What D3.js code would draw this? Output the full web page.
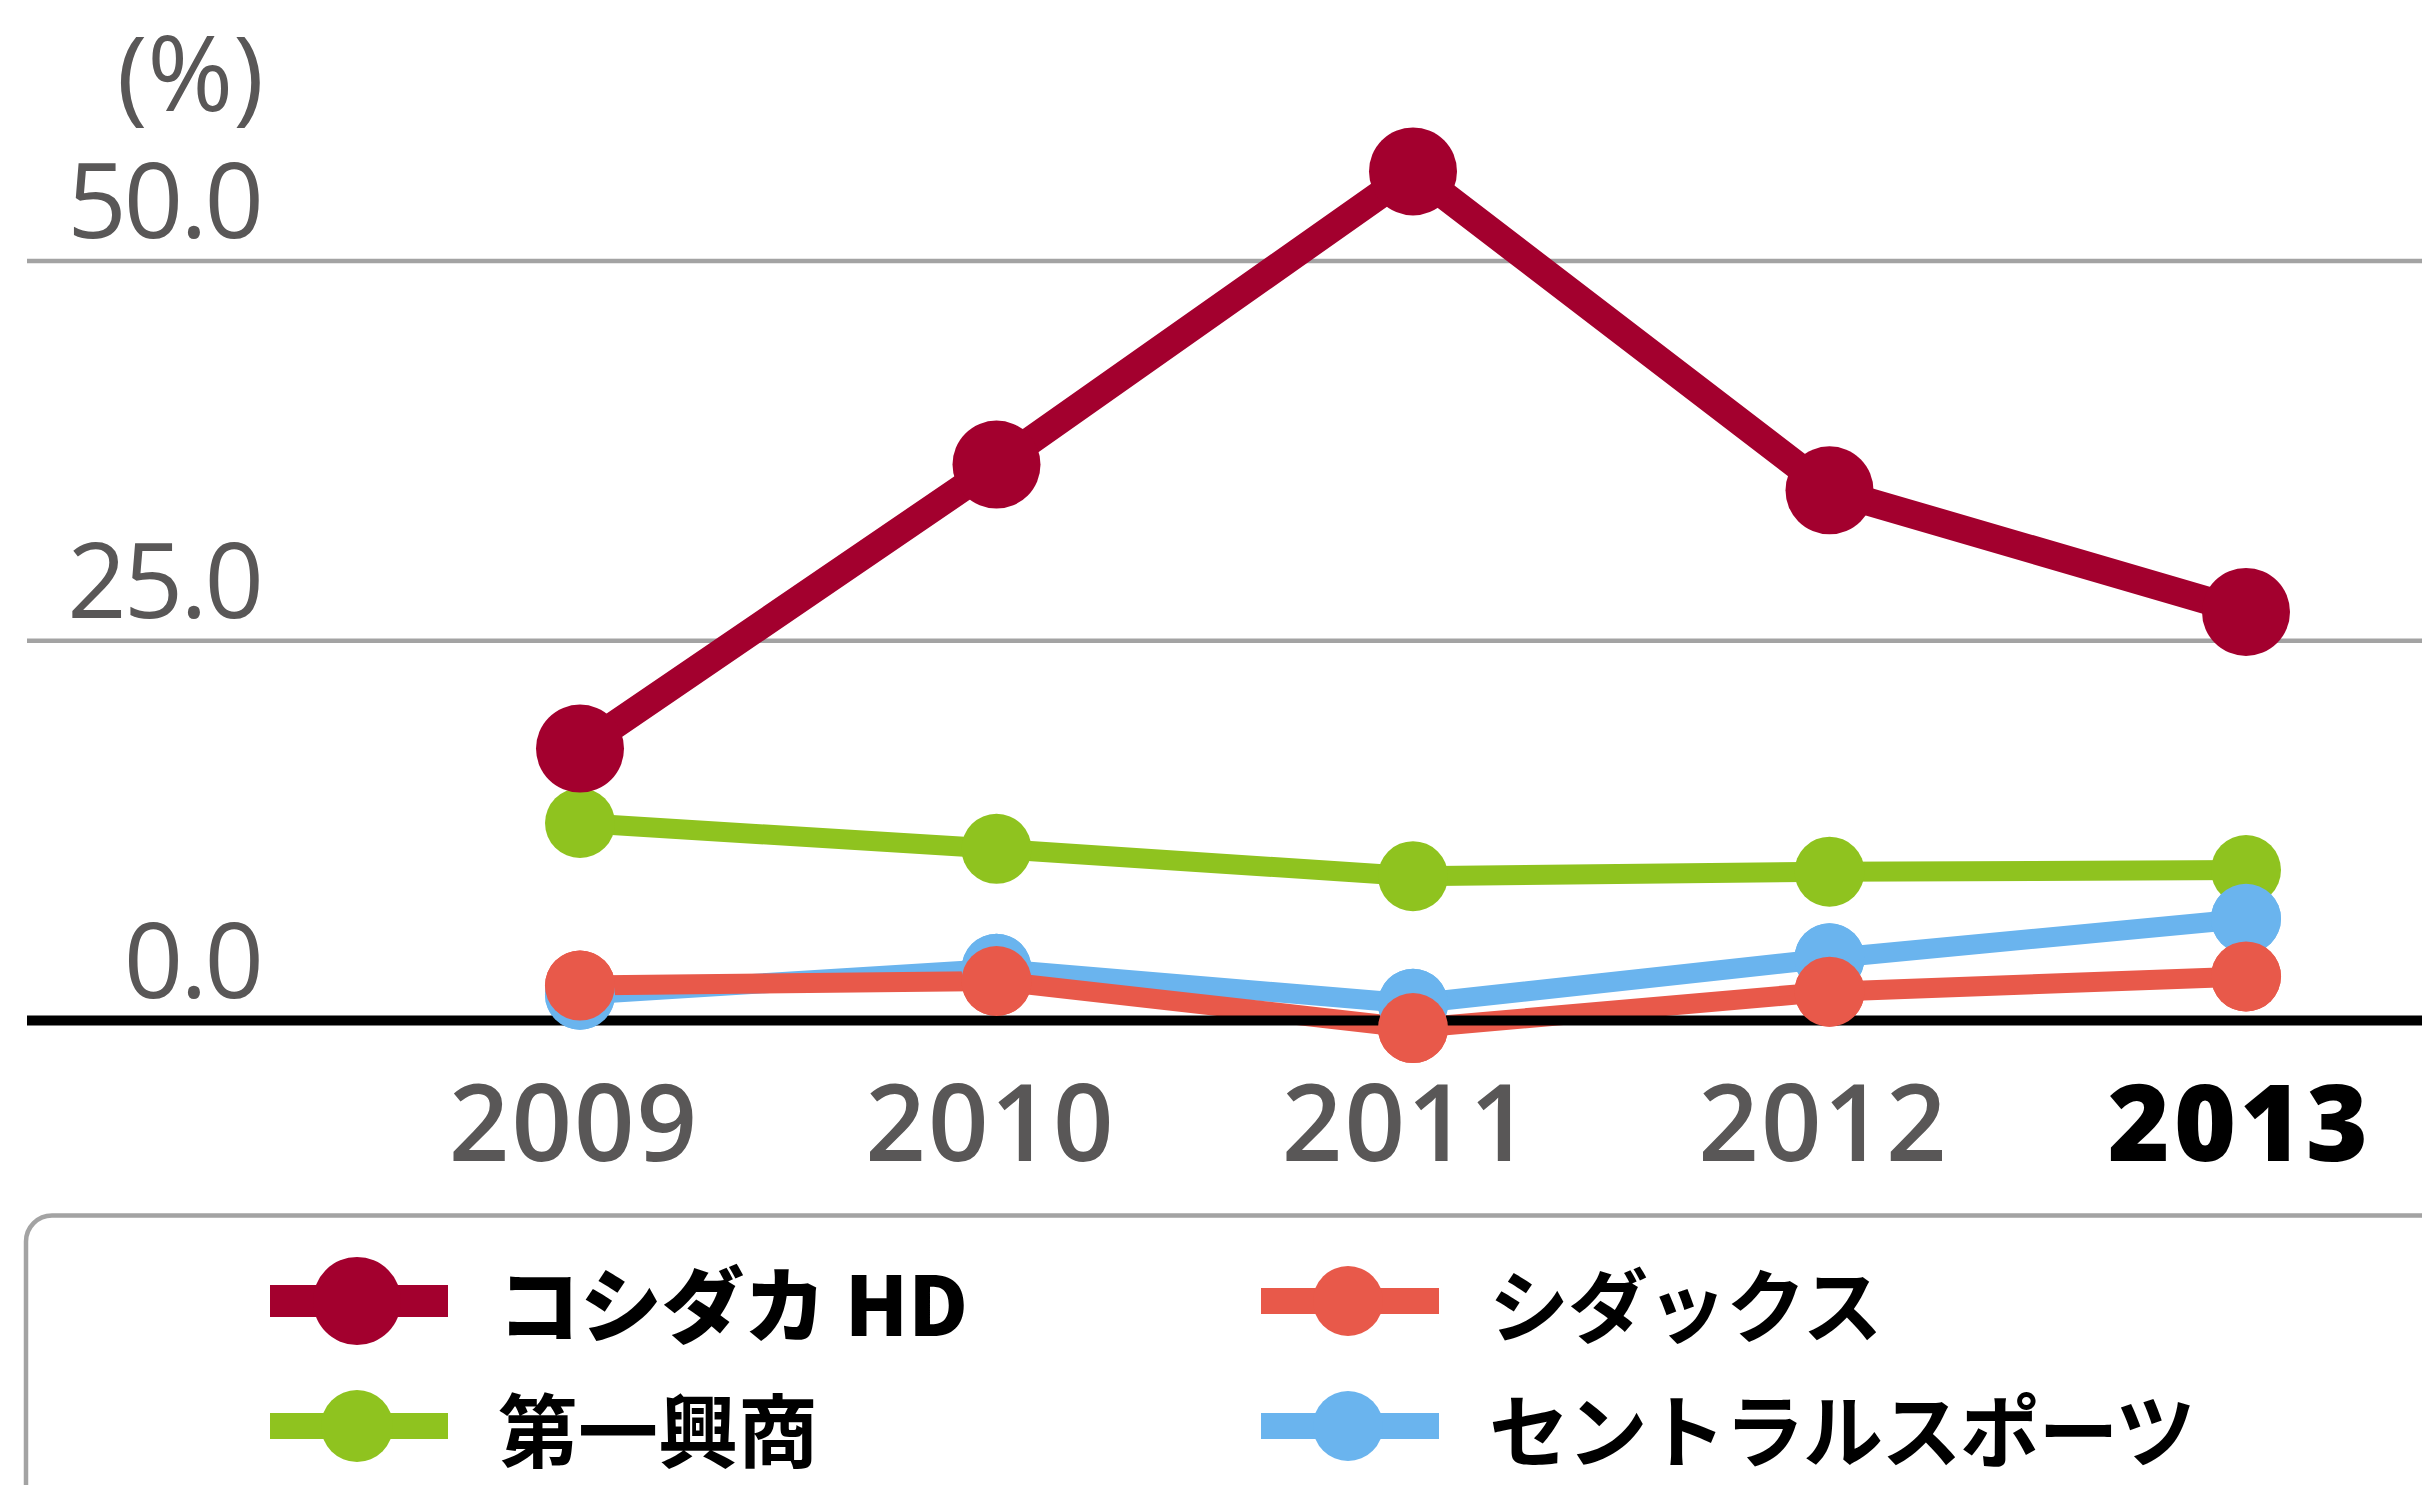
<!DOCTYPE html>
<html>
<head>
<meta charset="utf-8">
<script src="https://cdn.jsdelivr.net/npm/d3@7"></script>
<style>
  html, body { margin: 0; padding: 0; background: #fff; }
  svg { display: block; }
</style>
</head>
<body>
<svg id="chart" width="2422" height="1485"></svg>
<script>
// ---- data ----
const years = ["2009", "2010", "2011", "2012", "2013"];
const seriesNames = ["コシダカ HD", "第一興商", "シダックス", "セントラルスポーツ"];
const koshidaka = [17.9, 36.6, 55.9, 34.9, 26.9];
const daiichikosho = [13.0, 11.3, 9.5, 9.8, 9.9];
const shidax = [2.3, 2.6, -0.5, 1.9, 2.9];
const centralSports = [1.7, 3.4, 1.1, 4.1, 6.7];
const yTicks = [0, 25, 50];
const yTickLabels = ["0.0", "25.0", "50.0"];
const unitLabel = "(%)";

// ---- styles ----
const styles = {
  "コシダカ HD": { color: "#a3002e", width: 28, r: 44, legendWidth: 32, legendR: 44, weight: 900, fs: 82, ls: 0 },
  "第一興商": { color: "#8fc31f", width: 20, r: 35, legendWidth: 26, legendR: 36, weight: 700, fs: 80, ls: 0 },
  "シダックス": { color: "#e8594a", width: 20, r: 35, legendWidth: 26, legendR: 35, weight: 700, fs: 80, ls: -1 },
  "セントラルスポーツ": { color: "#6ab4ee", width: 20, r: 35, legendWidth: 26, legendR: 35, weight: 700, fs: 80, ls: -1.5 }
};
const valuesByName = {
  "コシダカ HD": koshidaka,
  "第一興商": daiichikosho,
  "シダックス": shidax,
  "セントラルスポーツ": centralSports
};

const svg = d3.select("#chart");
const W = 2422;

const x = d3.scalePoint().domain(years).range([580, 2246]);
const y = d3.scaleLinear().domain([0, 50]).range([1020.5, 261]);

// gridlines
svg.append("g").selectAll("line")
  .data(yTicks.filter(d => d !== 0))
  .join("line")
  .attr("x1", 27).attr("x2", W)
  .attr("y1", d => y(d)).attr("y2", d => y(d))
  .attr("stroke", "#a3a3a3").attr("stroke-width", 4.5);

// y tick labels
svg.append("g").selectAll("text")
  .data(yTicks)
  .join("text")
  .attr("x", 261)
  .attr("y", d => y(d) - 23)
  .attr("text-anchor", "end")
  .attr("font-family", "'Open Sans', 'Noto Sans', sans-serif")
  .attr("font-size", 104)
  .attr("letter-spacing", -3)
  .attr("fill", "#595757")
  .text((d, i) => yTickLabels[i]);

// unit label
svg.append("text")
  .attr("x", 264).attr("y", 111)
  .attr("text-anchor", "end")
  .attr("font-family", "'Open Sans', 'Noto Sans', sans-serif")
  .attr("font-size", 104)
  .attr("letter-spacing", 0)
  .attr("fill", "#595757")
  .text(unitLabel);

// x labels
svg.append("g").selectAll("text")
  .data(years)
  .join("text")
  .attr("x", d => x(d) - 6)
  .attr("y", 1161)
  .attr("text-anchor", "middle")
  .attr("font-family", "'Open Sans', 'Noto Sans', sans-serif")
  .attr("font-size", 106)
  .attr("font-weight", (d, i) => i === years.length - 1 ? 800 : 600)
  .attr("letter-spacing", (d, i) => i === years.length - 1 ? 4 : 2)
  .attr("fill", (d, i) => i === years.length - 1 ? "#000" : "#595757")
  .text(d => d);

// series (bottom to top)
const drawOrder = ["セントラルスポーツ", "シダックス", "第一興商", "コシダカ HD"];
const line = d3.line().x((d, i) => x(years[i])).y(d => y(d));
drawOrder.forEach(name => {
  const st = styles[name];
  const vals = valuesByName[name];
  const g = svg.append("g");
  g.append("path")
    .attr("d", line(vals))
    .attr("fill", "none")
    .attr("stroke", st.color)
    .attr("stroke-width", st.width)
    .attr("stroke-linejoin", "miter");
  g.selectAll("circle")
    .data(vals)
    .join("circle")
    .attr("cx", (d, i) => x(years[i]))
    .attr("cy", d => y(d))
    .attr("r", st.r)
    .attr("fill", st.color);
});

// zero axis line
svg.append("line")
  .attr("x1", 27).attr("x2", W)
  .attr("y1", y(0)).attr("y2", y(0))
  .attr("stroke", "#000").attr("stroke-width", 10);

// markers that sit over the zero line
["セントラルスポーツ", "シダックス"].forEach(name => {
  const st = styles[name];
  const vals = valuesByName[name];
  svg.append("g").selectAll("circle")
    .data(vals)
    .join("circle")
    .attr("cx", (d, i) => x(years[i]))
    .attr("cy", d => y(d))
    .attr("r", st.r)
    .attr("fill", st.color);
});

// legend box
svg.append("rect")
  .attr("x", 26).attr("y", 1215.5)
  .attr("width", 2600).attr("height", 500)
  .attr("rx", 26).attr("ry", 26)
  .attr("fill", "none")
  .attr("stroke", "#a3a3a3").attr("stroke-width", 4.5);

const legendPos = [
  { name: "コシダカ HD", lx: 270, cy: 1301 },
  { name: "第一興商", lx: 270, cy: 1426 },
  { name: "シダックス", lx: 1261, cy: 1301 },
  { name: "セントラルスポーツ", lx: 1261, cy: 1426 }
];
const lg = svg.append("g");
legendPos.forEach(p => {
  const st = styles[p.name];
  lg.append("line")
    .attr("x1", p.lx).attr("x2", p.lx + 178)
    .attr("y1", p.cy).attr("y2", p.cy)
    .attr("stroke", st.color).attr("stroke-width", st.legendWidth);
  lg.append("circle")
    .attr("cx", p.lx + 87).attr("cy", p.cy)
    .attr("r", st.legendR).attr("fill", st.color);
  lg.append("text")
    .attr("x", p.lx + 228).attr("y", p.cy + 35)
    .attr("font-family", "'Noto Sans CJK JP', 'Noto Sans', sans-serif")
    .attr("font-size", st.fs)
    .attr("letter-spacing", st.ls)
    .attr("font-weight", st.weight)
    .attr("fill", "#000")
    .text(p.name);
});
</script>
</body>
</html>
